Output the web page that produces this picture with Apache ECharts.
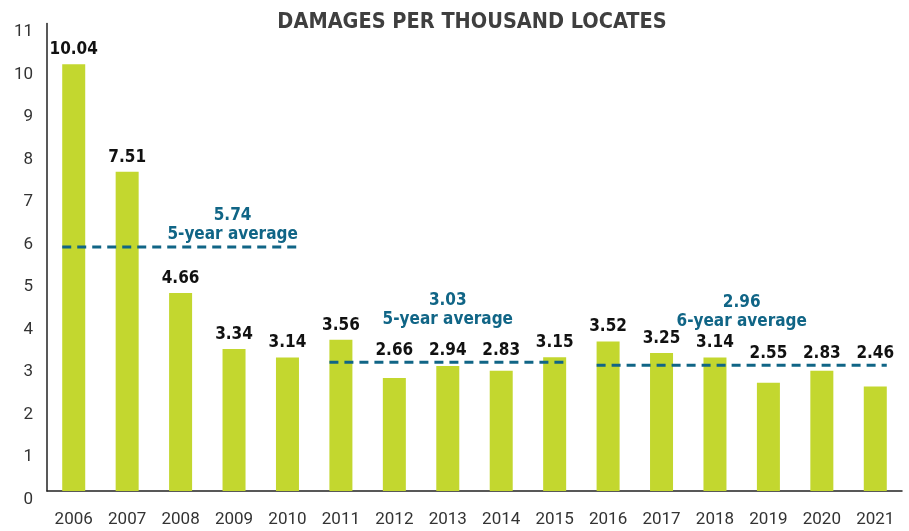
<!DOCTYPE html>
<html>
<head>
<meta charset="utf-8">
<script src="https://cdn.jsdelivr.net/npm/echarts@6/dist/echarts.min.js"></script>
<style>
  html, body { margin: 0; padding: 0; background: #fff; }
  #chart { width: 909px; height: 531px; }
</style>
</head>
<body>
<div id="chart"></div>
<script>
    var years = ['2006','2007','2008','2009','2010','2011','2012','2013','2014','2015','2016','2017','2018','2019','2020','2021'];
    var damages = [10.04, 7.51, 4.66, 3.34, 3.14, 3.56, 2.66, 2.94, 2.83, 3.15, 3.52, 3.25, 3.14, 2.55, 2.83, 2.46];
    var yTicks = [0, 11, 1];   // min, max, interval

    // dashed average lines: first / last year index of each period
    var avgValues = [5.74, 3.03, 2.96];
    var avgFrom = [0, 5, 10];
    var avgTo = [4, 9, 15];
    var avgNames = ['5-year average', '5-year average', '6-year average'];

    var barHalf = 0.215;     // half bar width, in category units
    var avgColor = '#106586';
    var numFont = '"DejaVu Sans Condensed", sans-serif';

    function groupOf(i){
        for (var g = 0; g < avgFrom.length; g++){
            if (i >= avgFrom[g] && i <= avgTo[g]) return g;
        }
        return -1;
    }

    // bars just under their period's average get their label lifted above the line
    var barData = [];
    var liftedLabels = [];
    damages.forEach(function(v, i){
        var g = groupOf(i);
        var lifted = g >= 0 && v < avgValues[g] && avgValues[g] - v < 0.8;
        barData.push({ value: v, label: { show: !lifted } });
        if (lifted) liftedLabels.push({ value: [i, avgValues[g]], text: v.toFixed(2) });
    });

    var labelStyle = {
        color: '#111', fontSize: 17, fontWeight: 'bold', fontFamily: numFont
    };

    var series = [{
        type: 'bar',
        data: barData,
        barWidth: 23,
        itemStyle: { color: '#c3d72f' },
        label: Object.assign({
            show: true, position: 'top', distance: 6,
            formatter: function(p){ return p.value.toFixed(2); }
        }, labelStyle),
        z: 2
    }, {
        type: 'scatter',
        xAxisIndex: 1,
        data: liftedLabels,
        symbolSize: 0,
        itemStyle: { opacity: 1 },
        label: Object.assign({
            show: true, position: 'top', distance: 3,
            formatter: function(p){ return p.data.text; }
        }, labelStyle),
        silent: true, z: 5
    }];

    avgValues.forEach(function(a, g){
        series.push({
            type: 'line',
            xAxisIndex: 1,
            data: [[avgFrom[g] - barHalf, a], [avgTo[g] + barHalf, a]],
            symbol: 'none',
            lineStyle: { color: avgColor, width: 3, type: [9, 6] },
            silent: true, z: 4
        });
    });

    // average captions
    var captionOffsets = [[52, 1], [0, -29], [0, -30]];
    series.push({
        type: 'scatter',
        xAxisIndex: 1,
        symbolSize: 0,
        itemStyle: { opacity: 1 },
        data: avgValues.map(function(a, g){
            return {
                value: [(avgFrom[g] + avgTo[g]) / 2, a],
                label: { offset: captionOffsets[g] },
                caption: a.toFixed(2) + '\n' + avgNames[g]
            };
        }),
        label: {
            show: true, position: 'top', distance: 4,
            formatter: function(p){ return p.data.caption; },
            color: avgColor, fontSize: 17, fontWeight: 'bold', lineHeight: 19,
            fontFamily: '"DejaVu Sans Condensed", sans-serif', align: 'center'
        },
        silent: true, z: 6
    });

    var myChart = echarts.init(document.getElementById('chart'));
    var option = {
        animation: false,
        title: {
            text: 'DAMAGES PER THOUSAND LOCATES',
            left: 467, top: 6, textAlign: 'center',
            textStyle: { color: '#3f3f3f', fontSize: 21.5, fontWeight: 'bold', fontFamily: '"DejaVu Sans Condensed", sans-serif' }
        },
        grid: { left: 47, right: 7, top: 23.5, bottom: 40 },
        xAxis: [{
            type: 'category',
            data: years,
            axisLine: { lineStyle: { color: '#222', width: 1.5 } },
            axisTick: { show: false },
            axisLabel: { color: '#333', fontSize: 17, margin: 20, fontFamily: 'Roboto, sans-serif' }
        }, {
            type: 'value',
            min: -0.5, max: years.length - 0.5,
            show: false
        }],
        yAxis: {
            type: 'value',
            min: yTicks[0], max: yTicks[1], interval: yTicks[2],
            axisLine: { show: true, onZero: false, lineStyle: { color: '#222', width: 1.5 } },
            axisTick: { show: false },
            splitLine: { show: false },
            axisLabel: { color: '#333', fontSize: 17, margin: 14, verticalAlign: 'top', fontFamily: 'Roboto, sans-serif' }
        },
        series: series
    };
    myChart.setOption(option);
</script>
</body>
</html>
